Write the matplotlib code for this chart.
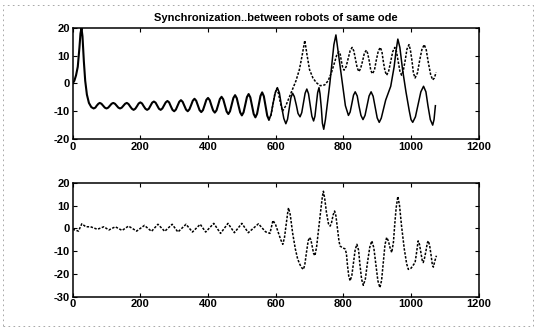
import matplotlib
matplotlib.use("Agg")
import matplotlib.pyplot as plt
from matplotlib.patches import Rectangle

plt.rcParams['font.family'] = ['Liberation Sans', 'DejaVu Sans']

title = "Synchronization..between robots of same ode"

# ---- top panel: part shared by both robots (curves coincide up to x~580) ----
top_common_x = [0, 5, 10, 15, 20, 23, 26, 29, 33, 37, 42, 48, 55, 62,
                67, 71, 76, 80, 85, 90, 95, 100, 105, 110, 115, 120, 125, 130, 135, 140,
                145, 150, 155, 160, 165, 170, 175, 180, 185, 190, 195, 200, 205, 210, 215,
                220, 225, 230, 235, 240, 245, 250, 255, 260, 265, 270, 275, 280, 285, 290,
                295, 300, 305, 310, 315, 320, 325, 330, 335, 340, 345, 350, 355, 360, 365,
                370, 375, 380, 385, 390, 395, 400, 405, 410, 415, 420, 425, 430, 435, 440,
                445, 450, 455, 460, 465, 470, 475, 480, 485, 490, 495, 500, 505, 510, 515,
                520, 525, 530, 535, 540, 545, 550, 555, 560, 565, 570, 575, 580]
top_common_y = [0, 1, 3, 6, 13, 18, 20, 17, 8, 1, -4, -7, -8.5, -9,
                -8.7, -8, -7.3, -7, -7.3, -8, -8.7, -9, -8.7, -8, -7.3, -7, -7.3, -8, -8.7, -9,
                -8.7, -8, -7.3, -7, -7.4, -8.3, -9.1, -9.5, -9.1, -8.2, -7.2, -6.8, -7.2, -8.2,
                -9.1, -9.5, -9.1, -8, -6.9, -6.5, -6.9, -8, -9.1, -9.5, -9.0, -7.9, -6.8, -6.3,
                -6.8, -8.2, -9.5, -10, -9.4, -8, -6.6, -6, -6.6, -8, -9.4, -10, -9.3, -7.8,
                -6.2, -5.5, -6.2, -7.9, -9.6, -10.3, -9.6, -7.8, -5.9, -5.2, -6.0, -7.9, -9.7,
                -10.5, -9.7, -7.7, -5.6, -4.8, -5.7, -7.9, -10.1, -11, -10, -7.6, -5.2, -4.2,
                -5.3, -7.9, -10.4, -11.5, -10.4, -7.7, -4.9, -3.8, -5.0, -8, -11, -12.2, -10.9,
                -7.7, -4.5, -3.2, -4.6, -8.1, -11.6, -13]

# ---- top panel: solid robot after the split ----
top_solid_x = [586, 592, 599, 605, 611, 617, 624, 630, 635, 640, 645, 650, 655, 661, 666,
               672, 677, 682, 687, 692, 697, 702, 707, 712, 716, 720, 724, 728, 731, 735,
               738, 742, 747, 760, 772, 778, 784, 795, 806, 815, 820, 825, 830, 835, 841,
               846, 852, 858, 864, 870, 876, 882, 888, 894, 900, 906, 912, 925, 940, 950,
               956, 961, 967, 975, 985, 995, 1000, 1005, 1013, 1021, 1029, 1037, 1044, 1050,
               1057, 1064, 1068, 1072]
top_solid_y = [-11.3, -7.3, -3.2, -1.5, -3.4, -8, -12.6, -14.5, -12.9, -9, -5.1, -3.5, -4.7,
               -7.8, -10.8, -12, -10.5, -7, -3.5, -2, -3.7, -7.8, -11.8, -13.5, -11.8, -7.5,
               -3.3, -1.5, -3.7, -9, -14.3, -16.5, -13, 0, 14, 17.5, 12, 2, -8, -11.5, -10.3,
               -7.3, -4.2, -3, -4.5, -8, -11.5, -13, -11.5, -8, -4.5, -3, -4.6, -8.5, -12.4,
               -14, -12.5, -6, -1, 6, 12, 16, 13, 5, -3, -10, -13, -14, -12, -7.5, -3, -1,
               -3, -8, -13, -15, -13, -8]

# ---- top panel: dashed robot after the split ----
top_dash_x = [586, 592, 597, 603, 608, 614, 620, 630, 640, 650, 660, 670, 678, 686, 693,
              700, 710, 720, 732, 745, 755, 765, 775, 781, 787, 791, 794, 798, 802, 808,
              814, 820, 826, 831, 836, 841, 846, 851, 857, 862, 868, 872, 877, 881, 886,
              892, 897, 903, 909, 914, 918, 923, 928, 934, 940, 946, 952, 957, 962, 967,
              972, 977, 983, 988, 994, 998, 1003, 1007, 1012, 1019, 1025, 1032, 1039,
              1045, 1051, 1058, 1064, 1069, 1074]
top_dash_y = [-11.5, -7.5, -4, -1.8, -3.5, -7, -10, -8, -5, -2, 1, 5, 10, 15.5, 10, 5, 2,
              0.3, -0.8, -0.5, 1, 4, 8, 10.5, 11.4, 10.4, 8.1, 5.8, 4.8, 6, 8.9, 11.8, 13,
              11.7, 8.6, 5.6, 4.3, 5.4, 8.2, 10.9, 12, 10.8, 7.8, 4.7, 3.5, 4.9, 8.2, 11.6,
              13, 11.5, 8, 4.5, 3, 4.5, 8, 11.5, 13, 11.5, 8, 4.5, 3, 4.6, 8.5, 12.4, 14,
              12.2, 8, 3.8, 2, 3.8, 8, 12.2, 14, 12.1, 7.6, 3.2, 1.3, 2, 4]

# ---- bottom panel ----
bot_x = [0, 17, 27, 39, 53, 73, 92, 107, 126, 146, 165, 189, 212, 233, 252, 272, 294, 311,
         335, 354, 377, 393, 417, 437, 459, 478, 500, 519, 549, 570, 583, 592, 600, 608,
         615, 621, 626, 632, 636, 638, 643, 650, 658, 665, 672, 677, 682, 686, 691, 696,
         700, 704, 708, 712, 716, 721, 727, 734, 738, 741, 745, 750, 756, 761, 765, 770,
         774, 778, 783, 787, 790, 797, 805, 809, 812, 816, 820, 825, 830, 835, 840, 845,
         849, 854, 859, 865, 871, 878, 884, 890, 896, 902, 908, 913, 918, 923, 928, 933,
         938, 943, 948, 952, 956, 961, 966, 972, 980, 987, 992, 1000, 1007, 1012, 1016,
         1021, 1025, 1029, 1033, 1036, 1040, 1044, 1048, 1051, 1055, 1059, 1063, 1066,
         1070, 1075]
bot_y = [-0.4, -1.2, 2, 0.7, 0.7, -0.4, 0.7, -0.7, 0.7, -0.9, 1, -1.2, 1.3, -1.3, 1.8, -1.3,
         1.8, -1.6, 1.8, -1.6, 1.8, -1.6, 2.2, -2.2, 2.2, -1.9, 2.2, -1.9, 2, -1.5, -2.2,
         3.5, 1.5, -2, -5, -7, -4, 3, 7.5, 9, 6, -2, -9, -13.5, -16, -17.3, -18, -16,
         -10.5, -5.5, -4, -5, -8, -11, -12, -8, 0, 9, 14, 16.3, 13, 7, 2, 1, 2.5, 6, 7.6,
         5.5, -0.5, -5.5, -7.7, -8.5, -9, -11, -16, -21, -23, -20.7, -15, -9.3, -7, -9.6,
         -16, -22.4, -25, -22.2, -15.3, -8.3, -5.5, -8.5, -15.8, -23, -26, -22.8, -15,
         -7.2, -4, -5.5, -8.5, -10.6, -6, 2, 9, 14, 10, 1, -9, -15.5, -18, -17.5, -16, -15,
         -11, -5.5, -7, -10.5, -14, -15, -13, -10, -6.5, -5.5, -7.5, -11.5, -16, -17,
         -14.5, -12]

x_ticks = [0, 200, 400, 600, 800, 1000, 1200]
top_yticks = [-20, -10, 0, 10, 20]
bot_yticks = [-30, -20, -10, 0, 10, 20]

fig = plt.figure(figsize=(5.36, 3.33), dpi=100)
ax1 = fig.add_axes([0.1356, 0.5826, 0.7575, 0.3333])
ax2 = fig.add_axes([0.1356, 0.109, 0.7575, 0.342])

dash_style = (0, (1.6, 1.0))

ax1.plot(top_common_x, top_common_y, color='black', lw=1.5)
ax1.plot([top_common_x[-1]] + top_solid_x, [top_common_y[-1]] + top_solid_y,
         color='black', lw=1.1)
ax1.plot([top_common_x[-1]] + top_dash_x, [top_common_y[-1]] + top_dash_y,
         color='black', lw=1.1, linestyle=dash_style)
ax2.plot(bot_x, bot_y, color='black', lw=1.1, linestyle=dash_style)

for ax, yt in ((ax1, top_yticks), (ax2, bot_yticks)):
    ax.set_xlim(0, 1200)
    ax.set_ylim(yt[0], yt[-1])
    ax.set_xticks(x_ticks)
    ax.set_yticks(yt)
    ax.set_xticklabels([str(v) for v in x_ticks], fontweight='bold')
    ax.set_yticklabels([str(v) for v in yt], fontweight='bold')
    ax.tick_params(direction='in', top=True, right=True, length=3, width=0.8,
                   labelsize=8, pad=2)
    for s in ax.spines.values():
        s.set_linewidth(1.1)

ax1.set_title(title, fontsize=8, fontweight='bold', pad=5)

# faint scan border
fig.patches.append(Rectangle((0.006, 0.02), 0.988, 0.965, transform=fig.transFigure,
                             fill=False, edgecolor='#9a9a9a', linewidth=0.6,
                             linestyle=(0, (2, 4))))

fig.savefig("out.png", dpi=100)
